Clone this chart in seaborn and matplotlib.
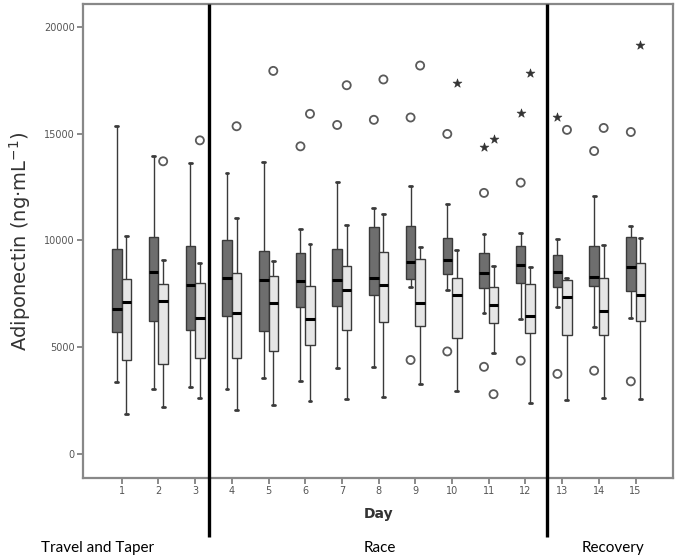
import matplotlib
matplotlib.use("Agg")
import matplotlib.pyplot as plt
import matplotlib.transforms as mtransforms
import numpy as np
import pandas as pd
import seaborn as sns

# ---------------- data ----------------
days = list(range(1, 16))
tick_labels = [str(d) for d in days]
groups = ["A", "B"]

# five-number summaries (ng/mL)
dark_whislo = [3390, 3060, 3120, 3060, 3545, 3420, 4045, 4090, 7810, 7690, 6620, 6310, 6900, 5940, 6370]
dark_q1     = [5700, 6230, 5810, 6440, 5760, 6860, 6950, 7420, 8170, 8420, 7790, 8000, 7810, 7840, 7650]
dark_med    = [6800, 8500, 7890, 8260, 8140, 8110, 8150, 8260, 8980, 9090, 8450, 8860, 8500, 8280, 8750]
dark_q3     = [9590, 10150, 9720, 10030, 9480, 9400, 9590, 10640, 10650, 10090, 9400, 9750, 9310, 9750, 10140]
dark_whishi = [15370, 13930, 13620, 13150, 13650, 10540, 12710, 11500, 12530, 11715, 10290, 10340, 10060, 12090, 10650]

light_whislo = [1870, 2220, 2610, 2060, 2300, 2480, 2560, 2690, 3280, 2970, 4720, 2380, 2530, 2610, 2590]
light_q1     = [4390, 4200, 4480, 4470, 4830, 5110, 5810, 6190, 6000, 5420, 6120, 5660, 5580, 5580, 6230]
light_med    = [7110, 7140, 6360, 6590, 7060, 6340, 7690, 7920, 7060, 7420, 6980, 6480, 7340, 6700, 7450]
light_q3     = [8200, 7970, 8010, 8450, 8310, 7840, 8810, 9470, 9120, 8260, 7810, 7950, 8150, 8260, 8940]
light_whishi = [10180, 9080, 8920, 11040, 9030, 9830, 10720, 11250, 9690, 9560, 8810, 8760, 8230, 9780, 10090]

# outliers (circle) and extremes (star)
outlier_day   = [6, 7, 8, 9, 9, 10, 10, 11, 11, 11, 12, 12, 12, 13, 13, 14, 14, 15, 15,
                 2, 3, 4, 5, 6, 7, 8, 9, 10, 11, 11, 12, 13, 14, 15]
outlier_group = ["A"] * 19 + ["B"] * 15
outlier_value = [14400, 15400, 15640, 15750, 4400, 14980, 4800, 14390, 12220, 4080,
                 15970, 12700, 4370, 15780, 3750, 14180, 3900, 15070, 3400,
                 13700, 14680, 15340, 17930, 15920, 17260, 17530, 18180, 17370,
                 14760, 2800, 17840, 15170, 15260, 19150]
outlier_kind  = ["o", "o", "o", "o", "o", "o", "o", "*", "o", "o",
                 "*", "o", "o", "*", "o", "o", "o", "o", "o",
                 "o", "o", "o", "o", "o", "o", "o", "o", "*",
                 "*", "o", "*", "o", "o", "*"]

phase_labels = ["Travel and Taper", "Race", "Recovery"]
y_ticks = [0, 5000, 10000, 15000, 20000]

# ---------------- build tables ----------------
rows = []
summaries = {
    "A": [dark_whislo, dark_q1, dark_med, dark_q3, dark_whishi],
    "B": [light_whislo, light_q1, light_med, light_q3, light_whishi],
}
for g in groups:
    cols = summaries[g]
    for i, d in enumerate(days):
        for c in cols:
            rows.append({"day": d, "group": g, "value": c[i]})
box_df = pd.DataFrame(rows)

BOX_W = 0.52
half = BOX_W / 4
out_df = pd.DataFrame({"day": outlier_day, "group": outlier_group,
                       "value": outlier_value, "kind": outlier_kind})
out_df["xpos"] = [days.index(d) + (-half if g == "A" else half)
                  for d, g in zip(out_df["day"], out_df["group"])]

# ---------------- plot ----------------
sns.set_style("white")
plt.rcParams["font.family"] = ["DejaVu Sans"]

fig = plt.figure(figsize=(6.82, 5.59), dpi=100)
ax = fig.add_axes([0.1221, 0.1454, 0.8651, 0.8474])

sns.boxplot(data=box_df, x="day", y="value", hue="group", order=days,
            hue_order=groups, palette=["#6e6e6e", "#e6e6e6"], saturation=1,
            width=BOX_W, gap=0, whis=(0, 100), linecolor="#3a3a3a",
            linewidth=1.0, fliersize=0, legend=False,
            medianprops=dict(color="black", linewidth=2.2),
            capprops=dict(linewidth=2.0), capwidths=0.08, ax=ax)

circ = out_df[out_df["kind"] == "o"]
star = out_df[out_df["kind"] == "*"]
sns.scatterplot(x=circ["xpos"].to_numpy(), y=circ["value"].to_numpy(), marker="o",
                s=34, facecolor="none", edgecolor="#5a5a5a", linewidth=1.3, ax=ax)
sns.scatterplot(x=star["xpos"].to_numpy(), y=star["value"].to_numpy(), marker="*",
                s=45, color="#333333", edgecolor="#333333", linewidth=0.4, ax=ax)

ax.set_xlim(-1.046, 15.026)
ax.set_ylim(-1110, 21060)
ax.set_yticks(y_ticks)
ax.set_yticklabels([str(v) for v in y_ticks])
ax.set_xticks(range(len(days)))
ax.set_xticklabels(tick_labels)
ax.tick_params(axis="both", which="major", direction="out", length=4, width=1.2,
               color="#777777", labelcolor="#555555", labelsize=7, pad=2,
               left=True, bottom=True)

for sp in ax.spines.values():
    sp.set_color("#888888")
    sp.set_linewidth(1.6)

ax.set_xlabel("Day", fontsize=10, fontweight="bold", color="#333333", labelpad=8)
ax.set_ylabel("Adiponectin (ng\u00b7mL$^{-1}$)", fontsize=14, color="#333333", labelpad=8)

# phase separators
trans = mtransforms.blended_transform_factory(ax.transData, ax.transAxes)
for xs in [2.378, 11.577]:
    ax.plot([xs, xs], [1.0, -0.125], transform=trans, color="black",
            linewidth=2.4, clip_on=False, solid_capstyle="butt", zorder=5)

for lab, xc in zip(phase_labels, [-0.67, 7.03, 13.38]):
    ax.text(xc, -0.148, lab, transform=trans, ha="center", va="center",
            fontsize=11, color="black", family="Lato")

fig.savefig("out.png", dpi=100)
